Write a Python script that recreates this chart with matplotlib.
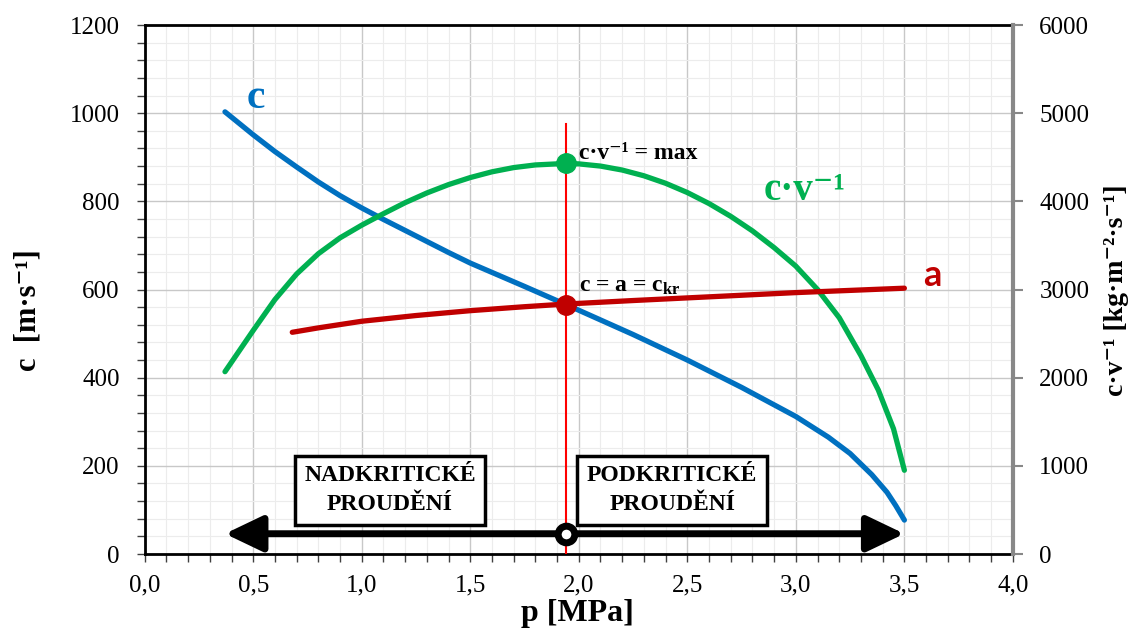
import numpy as np
import matplotlib.pyplot as plt
from matplotlib.ticker import MultipleLocator, FuncFormatter

plt.switch_backend('agg')
plt.rcParams['font.family'] = ['Liberation Serif', 'DejaVu Serif']
plt.rcParams['mathtext.default'] = 'regular'

# flow speed c [m/s] (left axis)
p_c = [0.37, 0.5, 0.6, 0.7, 0.8, 0.9, 1.0, 1.1, 1.2, 1.3, 1.4, 1.5, 1.75, 1.94, 2.0,
       2.25, 2.5, 2.75, 3.0, 3.15, 3.25, 3.35, 3.42, 3.46, 3.5]
c_vals = [1003, 951, 913, 878, 844, 813, 785, 759, 734, 709, 684, 660, 607, 566, 553,
          498, 440, 378, 312, 265, 228, 180, 140, 110, 77]

# speed of sound a [m/s] (left axis)
p_a = [0.68, 0.8, 1.0, 1.25, 1.5, 1.75, 1.94, 2.25, 2.5, 2.75, 3.0, 3.25, 3.5]
a_vals = [503, 513, 528, 541, 552, 561, 567, 575, 581, 587, 593, 598, 603]

# mass flux c/v [kg m-2 s-1] (right axis)
p_g = [0.37, 0.5, 0.6, 0.7, 0.8, 0.9, 1.0, 1.1, 1.2, 1.3, 1.4, 1.5, 1.6, 1.7, 1.8, 1.94,
       2.0, 2.1, 2.2, 2.3, 2.4, 2.5, 2.6, 2.7, 2.8, 2.9, 3.0, 3.1, 3.2, 3.3, 3.38, 3.45, 3.5]
g_vals = [2068, 2536, 2886, 3176, 3406, 3586, 3730, 3860, 3985, 4095, 4190, 4270, 4335,
          4383, 4413, 4430, 4425, 4400, 4355, 4290, 4205, 4100, 3975, 3830, 3665, 3475,
          3265, 3000, 2680, 2250, 1860, 1420, 950]

# critical point
p_kr = 1.94
c_kr = 566
g_max = 4430
line_top = 975
arrow_y = 46
arrow_left = 0.37
arrow_right = 3.5

x_ticks = [0.0, 0.5, 1.0, 1.5, 2.0, 2.5, 3.0, 3.5, 4.0]

blue = '#0070C0'
green = '#00B050'
dark_red = '#C00000'

fig = plt.figure(figsize=(11.33, 6.30), dpi=100)
ax = fig.add_axes([0.1277, 0.1206, 0.7663, 0.8397])
ax2 = ax.twinx()

ax.set_xlim(0, 4)
ax.set_ylim(0, 1200)
ax2.set_ylim(0, 6000)
ax.set_xticks(x_ticks)
ax.xaxis.set_major_formatter(FuncFormatter(lambda v, pos: f"{v:.1f}".replace('.', ',')))
ax.xaxis.set_minor_locator(MultipleLocator(0.1))
ax.yaxis.set_major_locator(MultipleLocator(200))
ax.yaxis.set_minor_locator(MultipleLocator(40))
ax2.yaxis.set_major_locator(MultipleLocator(1000))

ax.grid(which='major', color='#c8c8c8', lw=1.0)
ax.grid(which='minor', color='#ececec', lw=0.8)
ax.set_axisbelow(True)

ax.tick_params(which='both', direction='out', length=6, width=1, colors='#404040',
               labelsize=18, labelcolor='black', pad=9)
ax.tick_params(axis='y', which='both', pad=12)
ax2.tick_params(direction='out', length=7, width=1.5, colors='#888888',
                labelsize=18, labelcolor='black', pad=12)

for s in ['left', 'bottom', 'top']:
    ax.spines[s].set_linewidth(2)
    ax.spines[s].set_color('black')
    ax2.spines[s].set_visible(False)
ax2.spines['right'].set_linewidth(3)
ax2.spines['right'].set_color('#888888')
ax.spines['right'].set_visible(False)

# curves (left-scale data drawn on ax2 via ax.transData to keep the stacking order)
ax2.plot(p_c, c_vals, color=blue, lw=3.8, solid_capstyle='round', solid_joinstyle='round',
         zorder=2, transform=ax.transData)
ax2.plot(p_g, g_vals, color=green, lw=3.8, solid_capstyle='round', solid_joinstyle='round',
         zorder=3)
ax2.plot(p_a, a_vals, color=dark_red, lw=3.8, solid_capstyle='round', solid_joinstyle='round',
         zorder=4, transform=ax.transData)
ax2.plot([p_kr, p_kr], [0, line_top], color='#FF0000', lw=1.5, zorder=5,
         transform=ax.transData)

ax2.plot([p_kr], [g_max], 'o', color=green, ms=14, zorder=7)
ax2.plot([p_kr], [c_kr], 'o', color=dark_red, ms=14, zorder=7, transform=ax.transData)

# flow direction arrow
ax2.annotate('', xy=(arrow_left, arrow_y), xytext=(arrow_right, arrow_y),
             xycoords=ax.transData, textcoords=ax.transData,
             arrowprops=dict(arrowstyle='<|-|>,head_length=2.3,head_width=1.1',
                             color='black', lw=5, shrinkA=0, shrinkB=0), zorder=6)
ax2.plot([p_kr], [arrow_y], 'o', mfc='white', mec='black', ms=12, mew=5, zorder=8,
         transform=ax.transData)

box = dict(boxstyle='square,pad=0.4', fc='white', ec='black', lw=2.5)
ax2.text(1.13, 145, 'NADKRITICKÉ\nPROUDĚNÍ', transform=ax.transData, ha='center',
         va='center', fontsize=17, fontweight='bold', linespacing=1.5, bbox=box, zorder=9)
ax2.text(2.43, 145, 'PODKRITICKÉ\nPROUDĚNÍ', transform=ax.transData, ha='center',
         va='center', fontsize=17, fontweight='bold', linespacing=1.5, bbox=box, zorder=9)

# annotations
ax2.text(2.0, 908, 'c·v⁻¹ = max', transform=ax.transData, fontsize=17,
         fontweight='bold', va='center', zorder=9)
ax2.text(2.0, 607, 'c = a = c$_{kr}$', transform=ax.transData, fontsize=17,
         fontweight='bold', va='center', zorder=9)
ax2.text(0.51, 1035, 'c', transform=ax.transData, color=blue, fontsize=30,
         fontweight='bold', ha='center', va='center', zorder=9)
ax2.text(3.04, 825, 'c·v⁻¹', transform=ax.transData, color=green, fontsize=28,
         fontweight='bold', ha='center', va='center', zorder=9)
ax2.text(3.63, 632, 'a', transform=ax.transData, color=dark_red, fontsize=26,
         fontweight='bold', ha='center', va='center', family=['Lato', 'DejaVu Sans'], zorder=9)

# axis titles
fig.text(0.510, 0.026, 'p [MPa]', ha='center', va='center', fontsize=23, fontweight='bold')
fig.text(0.025, 0.508, 'c  [m·s⁻¹]', ha='center', va='center', fontsize=22,
         fontweight='bold', rotation=90)
fig.text(0.985, 0.540, 'c·v⁻¹ [kg·m⁻²·s⁻¹]', ha='center', va='center',
         fontsize=20, fontweight='bold', rotation=90)

fig.savefig('out.png', dpi=100)
